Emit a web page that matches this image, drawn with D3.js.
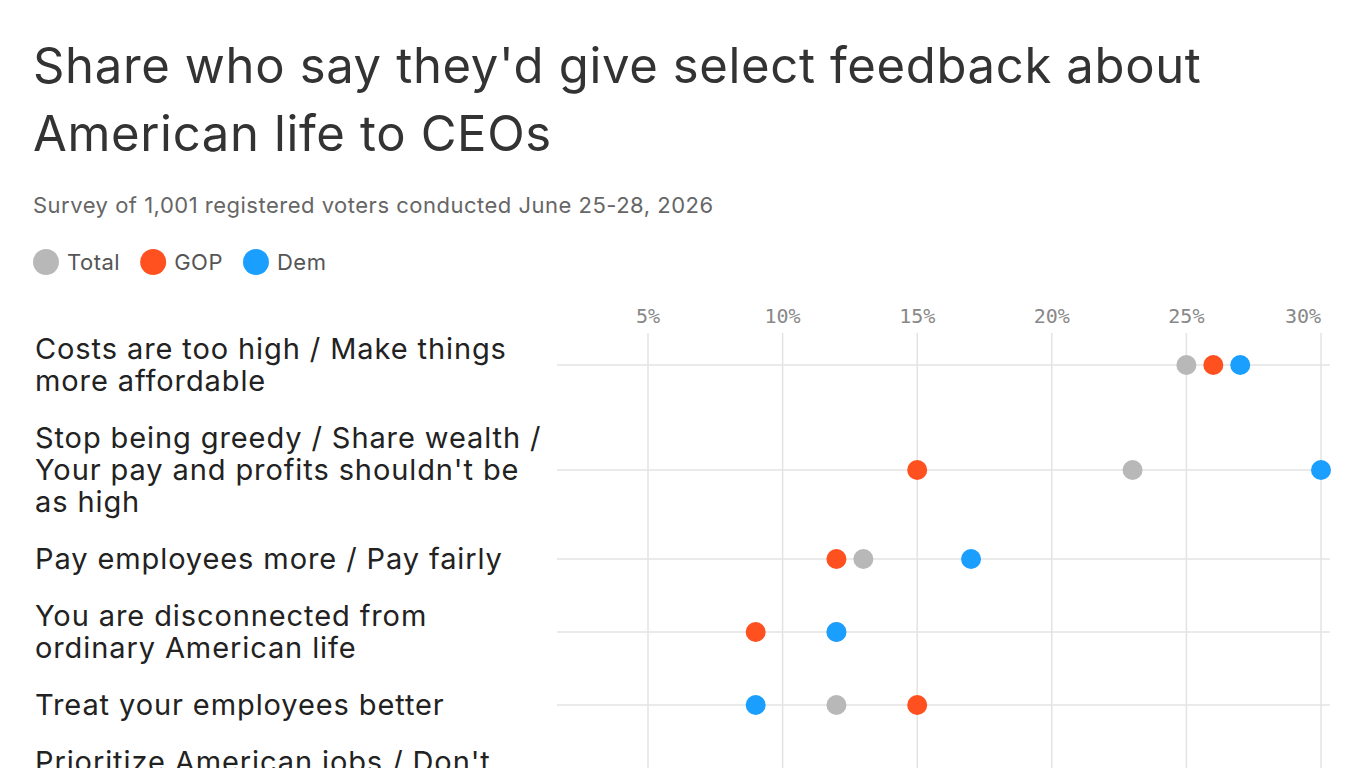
<!DOCTYPE html>
<html><head><meta charset="utf-8">
<script src="https://cdn.jsdelivr.net/npm/d3@7"></script>
<style>body{margin:0;background:#fff}svg{display:block}</style>
</head><body><svg id="c" width="1366" height="768"></svg>
<script>
const categories = [
  ["Costs are too high / Make things","more affordable"],
  ["Stop being greedy / Share wealth /","Your pay and profits shouldn't be","as high"],
  ["Pay employees more / Pay fairly"],
  ["You are disconnected from","ordinary American life"],
  ["Treat your employees better"],
  ["Prioritize American jobs / Don't","outsource"]
];
const totalVals = [25, 23, 13, 12, 12, 10];
const gopVals   = [26, 15, 12,  9, 15, 12];
const demVals   = [27, 30, 17, 12,  9,  8];
const tickVals = [5,10,15,20,25,30];
const seriesNames = ["Total","GOP","Dem"];
const colors = {Total:"#b8b8b8", GOP:"#ff5020", Dem:"#1a9fff"};
const font = "Inter, 'Open Sans', sans-serif";

const svg = d3.select("#c");
svg.append("text").attr("x",33).attr("y",83).attr("font-family",font).attr("font-size",49).attr("letter-spacing",0.65).attr("fill","#333").text("Share who say they'd give select feedback about");
svg.append("text").attr("x",33).attr("y",151).attr("font-family",font).attr("font-size",49).attr("letter-spacing",0.65).attr("fill","#333").text("American life to CEOs");
svg.append("text").attr("x",33).attr("y",213).attr("font-family",font).attr("font-size",22).attr("letter-spacing",0.5).attr("fill","#666").text("Survey of 1,001 registered voters conducted June 25-28, 2026");

let lx=33;
seriesNames.forEach(n=>{
  svg.append("circle").attr("cx",lx+13).attr("cy",262).attr("r",13).attr("fill",colors[n]);
  const t=svg.append("text").attr("x",lx+34).attr("y",270).attr("font-family",font).attr("font-size",22).attr("letter-spacing",0.5).attr("fill","#555").text(n);
  lx += 34 + t.node().getComputedTextLength() + 20;
});

const x = d3.scaleLinear().domain([5,30]).range([648,1321]);
const centers=[]; let y=365;
categories.forEach((c,i)=>{ if(i>0){ y += (categories[i-1].length + c.length)/2*32 + 25; } centers.push(y); });

const g = svg.append("g");
tickVals.forEach(t=>{
  g.append("line").attr("x1",x(t)).attr("x2",x(t)).attr("y1",333).attr("y2",768).attr("stroke","#e3e3e3").attr("stroke-width",1.5);
  g.append("text").attr("x",t===30?x(t):x(t)).attr("y",323).attr("text-anchor",t===30?"end":"middle").attr("font-family","'DejaVu Sans Mono', monospace").attr("font-size",20).attr("fill","#888").text(t+"%");
});
categories.forEach((c,i)=>{
  const cy=centers[i];
  g.append("line").attr("x1",557).attr("x2",1330).attr("y1",cy).attr("y2",cy).attr("stroke","#e3e3e3").attr("stroke-width",1.5);
  c.forEach((ln,j)=>{
    g.append("text").attr("x",35).attr("y",cy + (j-(c.length-1)/2)*32 + 10).attr("font-family",font).attr("font-size",29).attr("letter-spacing",0.9).attr("fill","#222").text(ln);
  });
  [["Total",totalVals],["GOP",gopVals],["Dem",demVals]].forEach(([n,v])=>{
    g.append("circle").attr("cx",x(v[i])).attr("cy",cy).attr("r",10).attr("fill",colors[n]);
  });
});
</script></body></html>
